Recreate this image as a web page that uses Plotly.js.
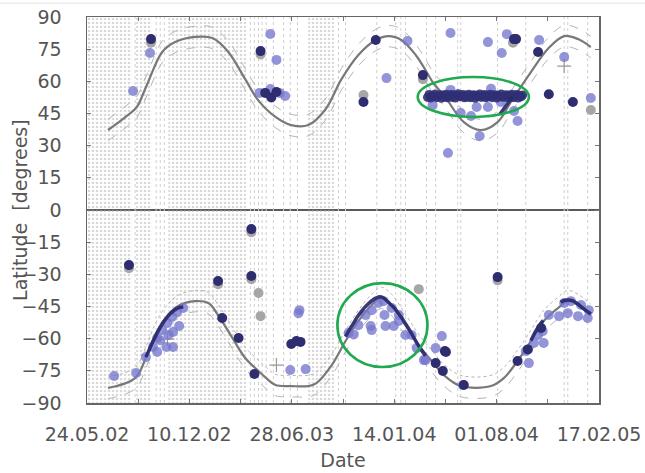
<!DOCTYPE html>
<html>
<head>
<meta charset="utf-8">
<script src="https://cdn.plot.ly/plotly-3.0.1.min.js"></script>
<style>html,body{margin:0;padding:0;background:#fff;}#chart{width:645px;height:473px;}</style>
</head>
<body>
<div id="chart"></div>
<script>
// ---- Data (x values are days since 24.05.02) ----
const startDate = '2002-05-24';
const tickDays = [0, 100, 200, 300, 400, 500, 600, 700, 800, 900, 1000];
const tickLabels = ['24.05.02', '', '10.12.02', '', '28.06.03', '', '14.01.04', '', '01.08.04', '', '17.02.05'];
const latTicks = [-90, -75, -60, -45, -30, -15, 0, 15, 30, 45, 60, 75, 90];

// observation coverage: dense bands [startDay, endDay] and single days
const coverageBands = [[0, 88], [96, 127], [159, 311], [432, 483]];
const coverageDays = [94, 135, 143, 151, 319, 327, 335, 342, 350, 364, 384, 397, 411, 491, 505, 566, 603, 613, 622, 663, 681, 724, 730, 802, 857, 932, 939, 978];

// model latitude track (northern)
const northDays = [41, 70, 94, 100, 117, 147, 172, 211, 245, 276, 309, 335, 368, 399, 432, 466, 497, 530, 564, 589, 614, 642, 661, 677, 697, 736, 769, 802, 828, 867, 900, 932, 959, 984];
const northLat  = [37.3, 42.4, 47.1, 49, 58.3, 73.7, 78.3, 80.7, 80.2, 73.7, 61, 51, 43.4, 39.6, 39.6, 47, 61, 72.3, 79.3, 81.1, 79.3, 72.3, 65.3, 59, 53.6, 41, 37.3, 41, 50.4, 64.3, 75.1, 81.1, 79.7, 76];
const northUp   = [42.3, 47.4, 52.1, 54, 63.3, 78.7, 83.3, 85.7, 85.2, 78.7, 66, 56, 48.4, 44.6, 44.6, 52, 66, 77.3, 84.3, 86.1, 84.3, 77.3, 70.3, 64, 58.6, 46, 42.3, 46, 55.4, 69.3, 80.1, 86.1, 84.7, 81];
const northLow  = [32.3, 37.4, 42.1, 44, 53.3, 68.7, 73.3, 75.7, 75.2, 68.7, 56, 46, 38.4, 34.6, 34.6, 42, 56, 67.3, 74.3, 76.1, 74.3, 67.3, 60.3, 54, 48.6, 36, 32.3, 36, 45.4, 59.3, 70.1, 76.1, 74.7, 71];

// model latitude track (southern)
const southDays = [41, 94, 117, 133, 153, 178, 211, 237, 256, 284, 309, 335, 350, 368, 399, 432, 448, 478, 505, 530, 556, 575, 595, 622, 648, 673, 697, 730, 789, 814, 841, 867, 892, 920, 939, 959, 984];
const southLat  = [-83, -78.4, -67.6, -58.3, -50.4, -44.8, -42.5, -43.4, -49, -59.7, -69, -75.1, -78.4, -81.6, -82.1, -82.1, -80.7, -72.3, -61.1, -51.8, -44.3, -41, -44.3, -53.7, -63, -70.4, -77, -82.1, -82.1, -78.4, -70.4, -61.1, -51.8, -45.7, -42.5, -44.3, -49];
const southUp   = [-78, -73.4, -62.6, -53.3, -45.4, -39.8, -37.5, -38.4, -44, -54.7, -64, -70.1, -73.4, -76.6, -77.1, -77.1, -75.7, -67.3, -56.1, -46.8, -39.3, -36, -39.3, -48.7, -58, -65.4, -72, -77.1, -77.1, -73.4, -65.4, -56.1, -46.8, -40.7, -37.5, -39.3, -44];
const southLow  = [-88, -83.4, -72.6, -63.3, -55.4, -49.8, -47.5, -48.4, -54, -64.7, -74, -80.1, -83.4, -86.6, -87.1, -87.1, -85.7, -77.3, -66.1, -56.8, -49.3, -46, -49.3, -58.7, -68, -75.4, -82, -87.1, -87.1, -83.4, -75.4, -66.1, -56.8, -50.7, -47.5, -49.3, -54];

// single detections (light)
const lightDays = [90, 123, 358, 370, 337, 358, 376, 387, 585, 626, 710, 783, 810, 820, 883, 932, 984, 705, 767, 841, 730, 750, 675, 761, 783, 808, 834, 710, 789,
  53, 96, 115, 129, 137, 147, 157, 166, 176, 188, 155, 168, 180, 168, 143, 159, 137, 413, 415, 397, 427,
  511, 521, 530, 544, 556, 569, 579, 581, 554, 556, 583, 599, 609, 622, 634, 644, 661, 595, 609, 693, 681, 658, 734,
  863, 857, 873, 892, 881, 890, 902, 922, 939, 959, 978, 932, 945, 965, 980];
const lightLat = [55.5, 73.2, 82.1, 70, 54.6, 56.4, 54.6, 53.2, 61.5, 78.8, 82.5, 78.3, 73.2, 82, 79.3, 71.3, 52.2, 26.6, 34.5, 41.5, 45.2, 43.8, 48.9, 48, 48, 50.4, 46.2, 56, 56.5,
  -77.4, -76, -68.6, -63.9, -59.7, -56, -52.7, -49.9, -47.6, -45.7, -63.9, -63.9, -54.1, -56.9, -60.7, -58.3, -66.2, -48.1, -46.7, -74.6, -74.2,
  -57.4, -58, -53.7, -49, -46.7, -43.4, -42.5, -49, -54.1, -56, -54.1, -54.1, -51.8, -58.3, -58.3, -64.4, -70, -45.7, -49, -58.8, -64.4, -70, -81.6,
  -71.4, -65.8, -62, -62, -58.3, -56.5, -49, -49.5, -48.1, -49.5, -50.4, -43.4, -42.5, -44.3, -46.7];

// single detections (dark)
const darkDays = [125, 339, 348, 360, 370, 540, 564, 656, 834, 838, 881, 902, 949,
  82, 321, 256, 321, 264, 296, 327, 409, 399, 417, 802, 699, 681, 695, 736, 701, 841, 861, 887];
const darkLat = [79.7, 74.1, 54.6, 52.5, 55, 50.4, 79.3, 62.9, 79.7, 79.7, 73.7, 54, 50.4,
  -25.7, -8.9, -33.1, -30.8, -50.4, -59.7, -76.5, -61.1, -62.5, -61.5, -31.3, -65.8, -71.4, -75.1, -81.6, -66.2, -70.4, -65, -55];

// dense dark cluster (northern, mid 2004)
const clusterDays = [665, 668, 671, 674, 677, 680, 683, 686, 689, 692, 695, 698, 701, 704, 707, 710, 713, 716, 719, 722, 725, 728, 731, 734, 737, 740, 743, 746, 749, 752, 755, 758, 761, 764, 767, 770, 773, 776, 779, 782, 785, 788, 791, 794, 797, 800, 803, 806, 809, 812, 815, 818, 821, 824, 827, 830, 833, 836, 839, 842, 845, 848, 851];
const clusterLat = [52.6, 53.9, 52.2, 53.5, 52.9, 54.1, 52.4, 53.2, 53.8, 52.1, 53.6, 52.7, 54.0, 52.3, 53.3, 53.9, 52.5, 53.7, 52.2, 53.4, 54.2, 52.8, 53.1, 53.9, 52.3, 53.6, 52.6, 54.0, 52.4, 53.3, 53.8, 52.1, 53.5, 52.9, 54.1, 52.5, 53.2, 53.9, 52.3, 53.6, 52.8, 54.0, 52.4, 53.4, 53.7, 52.2, 53.5, 52.9, 54.1, 52.6, 53.1, 53.8, 52.3, 53.6, 52.7, 54.0, 52.4, 53.3, 53.9, 52.2, 53.5, 52.8, 53.6];

// dense dark detections following the track (segments separated by null)
const trackDays = [806, 812, 818, 824, 830, null,
  115, 121, 127, 133, 139, 145, 151, 157, 163, 169, 175, 181, 188, null,
  505, 512, 520, 527, 535, 542, 550, 557, 565, 572, 578, 585, 592, 600, 607, 615, 622, 630, 637, 645, 653, 661, null,
  867, 873, 879, 885, 891, null,
  925, 932, 940, 948, 955, 962, 970, 977, 984];
const trackLat = [44.5, 46.5, 48.5, 50.5, 52.5, null,
  -68.6, -65.5, -62.3, -59.3, -56.5, -54, -51.8, -49.9, -48.3, -47, -46, -45.4, -45.2, null,
  -59, -56, -53, -50.2, -47.6, -45.5, -43.6, -42.2, -41, -40.4, -40.8, -42.2, -43.8, -45.6, -47.8, -50.4, -53, -56, -59, -62.3, -65.3, -68, null,
  -61, -58, -55.5, -53.3, -51.5, null,
  -43, -42.2, -42, -42.3, -43.2, -44.5, -46, -47.3, -48.5];

// grey detections
const greyDays = [125, 339, 540, 656, 832, 984, 82, 321, 256, 321, 335, 339, 648, 802];
const greyLat  = [78.0, 72.5, 53.6, 61, 78, 46.6, -27.2, -10.4, -34.6, -32.3, -38.7, -49.5, -36.9, -32.8];

// grey crosses
const crossDays = [932, 157, 370];
const crossLat  = [67.1, -60.2, -72.3];

// highlighted regions: [startDay, endDay, latLow, latHigh]
const highlightNorth = [646, 863, 43.4, 62];
const highlightSouth = [489, 665, -73.2, -34.1];

// ---- helpers ----
const startMs = Date.parse(startDate + 'T00:00:00Z');
function toDate(d) { return d === null ? null : new Date(startMs + d * 864e5).toISOString().replace('T', ' ').slice(0, 19); }
const dates = arr => arr.map(toDate);

const covX = [], covY = [];
coverageDays.forEach(d => { covX.push(toDate(d), toDate(d), null); covY.push(-90, 90, null); });

const traces = [
  {
    type: 'bar',
    x: coverageBands.map(b => toDate((b[0] + b[1]) / 2)),
    y: coverageBands.map(() => 180),
    base: coverageBands.map(() => -90),
    width: coverageBands.map(b => (b[1] - b[0]) * 864e5),
    marker: {
      color: 'rgba(255,255,255,0)',
      line: {width: 0},
      pattern: {shape: '.', fgcolor: '#b4b4b4', bgcolor: 'rgba(255,255,255,0)', size: 4, solidity: 0.35, fillmode: 'overlay'}
    },
    hoverinfo: 'skip'
  },
  {
    type: 'scatter', mode: 'lines', x: covX, y: covY,
    line: {color: '#cfcfcf', width: 1, dash: 'dot'}, hoverinfo: 'skip'
  },
  {type: 'scatter', mode: 'lines', x: dates(northDays), y: northUp, line: {color: '#b4b4b4', width: 1, dash: 'dash', shape: 'spline'}},
  {type: 'scatter', mode: 'lines', x: dates(northDays), y: northLow, line: {color: '#b4b4b4', width: 1, dash: 'dash', shape: 'spline'}},
  {type: 'scatter', mode: 'lines', x: dates(southDays), y: southUp, line: {color: '#b4b4b4', width: 1, dash: 'dot', shape: 'spline'}},
  {type: 'scatter', mode: 'lines', x: dates(southDays), y: southLow, line: {color: '#b4b4b4', width: 1, dash: 'dash', shape: 'spline'}},
  {type: 'scatter', mode: 'lines', x: dates(northDays), y: northLat, line: {color: '#787878', width: 2.2, shape: 'spline'}},
  {type: 'scatter', mode: 'lines', x: dates(southDays), y: southLat, line: {color: '#787878', width: 2.2, shape: 'spline'}},
  {type: 'scatter', mode: 'markers', x: dates(greyDays), y: greyLat, marker: {color: '#a6a6a6', size: 10}},
  {type: 'scatter', mode: 'markers', x: dates(crossDays), y: crossLat, marker: {symbol: 'cross-thin-open', color: '#9a9a9a', size: 10, line: {color: '#9a9a9a', width: 1.2}}},
  {type: 'scatter', mode: 'markers', x: dates(lightDays), y: lightLat, marker: {color: 'rgba(118,118,206,0.78)', size: 10}},
  {type: 'scatter', mode: 'markers', x: dates(clusterDays), y: clusterLat, marker: {color: 'rgba(48,48,118,0.9)', size: 9}},
  {type: 'scatter', mode: 'lines', x: dates(trackDays), y: trackLat, connectgaps: false, line: {color: 'rgba(40,40,108,0.92)', width: 3.5, shape: 'spline'}},
  {type: 'scatter', mode: 'markers', x: dates(darkDays), y: darkLat, marker: {color: '#2d2d70', size: 10}}
];

const layout = {
  width: 645, height: 473,
  margin: {l: 87, r: 46, t: 17, b: 70},
  paper_bgcolor: '#ffffff', plot_bgcolor: '#ffffff',
  showlegend: false, hovermode: false,
  font: {family: 'DejaVu Sans, Verdana, sans-serif', color: '#555555', size: 19},
  xaxis: {
    type: 'date',
    range: [toDate(0), toDate(1000)],
    tickmode: 'array', tickvals: dates(tickDays), ticktext: tickLabels,
    ticks: 'inside', ticklen: 4, tickcolor: '#777', tickwidth: 1,
    showline: true, linecolor: '#666', linewidth: 1.5, mirror: 'ticks',
    showgrid: false, zeroline: false,
    tickfont: {size: 19, color: '#555'},
    ticklabelstandoff: 14,
    title: {text: 'Date', font: {size: 19, color: '#555'}, standoff: 9},
    automargin: false
  },
  yaxis: {
    range: [-90, 90],
    tickmode: 'array', tickvals: latTicks,
    ticks: 'inside', ticklen: 4, tickcolor: '#777', tickwidth: 1,
    showline: true, linecolor: '#666', linewidth: 1.5, mirror: 'ticks',
    showgrid: false,
    zeroline: true, zerolinecolor: '#5a5a5a', zerolinewidth: 2,
    tickfont: {size: 19, color: '#555'},
    ticklabelstandoff: 20,
    automargin: false
  },
  annotations: [
    {text: 'Latitude\u00a0 [degrees]', xref: 'paper', yref: 'paper', x: -0.131, y: 0.5, xanchor: 'center', yanchor: 'middle', textangle: -90, showarrow: false, font: {size: 19, color: '#555'}}
  ],
  shapes: [
    {type: 'circle', xref: 'x', yref: 'y', x0: toDate(highlightNorth[0]), x1: toDate(highlightNorth[1]), y0: highlightNorth[2], y1: highlightNorth[3], line: {color: '#1faa4f', width: 2.6}},
    {type: 'circle', xref: 'x', yref: 'y', x0: toDate(highlightSouth[0]), x1: toDate(highlightSouth[1]), y0: highlightSouth[2], y1: highlightSouth[3], line: {color: '#1faa4f', width: 2.6}},
    {type: 'line', xref: 'paper', yref: 'paper', x0: -0.2, x1: 1.1, y0: 1.036, y1: 1.036, line: {color: '#e2e2e2', width: 1}}
  ]
};

Plotly.newPlot('chart', traces, layout, {displayModeBar: false, staticPlot: true});
</script>
</body>
</html>
